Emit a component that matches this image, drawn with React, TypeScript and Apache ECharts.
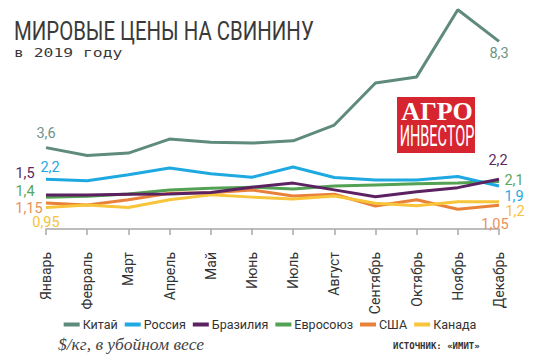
import React, { useEffect, useRef } from "react";
import * as echarts from "echarts";

const months = ["Январь", "Февраль", "Март", "Апрель", "Май", "Июнь", "Июль", "Август", "Сентябрь", "Октябрь", "Ноябрь", "Декабрь"];
const china = [3.6, 3.25, 3.36, 3.98, 3.84, 3.8, 3.9, 4.6, 6.46, 6.73, 9.7, 8.3];
const russia = [2.2, 2.13, 2.4, 2.7, 2.44, 2.29, 2.74, 2.28, 2.17, 2.17, 2.32, 1.9];
const brazil = [1.5, 1.5, 1.54, 1.55, 1.61, 1.85, 2.03, 1.73, 1.43, 1.65, 1.83, 2.2];
const eu = [1.4, 1.45, 1.55, 1.73, 1.8, 1.85, 1.77, 1.9, 1.95, 2.0, 2.03, 2.1];
const usa = [1.15, 1.06, 1.29, 1.58, 1.6, 1.73, 1.46, 1.54, 1.02, 1.29, 0.87, 1.05];
const canada = [0.95, 1.06, 0.95, 1.29, 1.51, 1.41, 1.33, 1.46, 1.14, 1.03, 1.21, 1.2];

const SANS = "Roboto, 'Liberation Sans', sans-serif";

function mkSeries(name: string, data: number[], color: string, labelColor: string, startOff: number[], endOff: number[], z: number) {
  const fmt = (v: number) => String(v).replace(".", ",");
  return {
    name,
    type: "line",
    z,
    symbol: "circle",
    symbolSize: 0,
    lineStyle: { color, width: 3 },
    itemStyle: { color },
    data: data.map((v, i) => {
      if (i === 0 || i === data.length - 1) {
        const off = i === 0 ? startOff : endOff;
        return {
          value: v,
          label: {
            show: true,
            position: "inside",
            offset: off,
            align: "center",
            verticalAlign: "middle",
            formatter: () => fmt(v),
            color: labelColor,
            fontSize: 14.5,
            fontFamily: SANS,
          },
        };
      }
      return v;
    }),
  };
}

export default function App() {
  const ref = useRef<HTMLDivElement>(null);
  useEffect(() => {
    document.body.style.margin = "0";
    const chart = echarts.init(ref.current!, null, { renderer: "svg" });
    chart.setOption({
      animation: false,
      backgroundColor: "#ffffff",
      grid: { left: 46, right: 41, top: 3, bottom: 117 },
      xAxis: {
        type: "category",
        data: months,
        boundaryGap: false,
        axisLine: { lineStyle: { color: "#a8a8a8", width: 1.5 } },
        axisTick: { show: true, length: 6, alignWithLabel: true, lineStyle: { color: "#a8a8a8", width: 1.5 } },
        axisLabel: { rotate: 90, margin: 9, fontSize: 14, fontFamily: SANS, color: "#333333", interval: 0 },
      },
      yAxis: { type: "value", min: -0.62, max: 10, show: false, splitLine: { show: false } },
      legend: {
        data: ["Китай", "Россия", "Бразилия", "Евросоюз", "США", "Канада"],
        top: 313,
        left: "center",
        itemWidth: 16,
        itemHeight: 4,
        itemGap: 7,
        icon: "rect",
        textStyle: { fontSize: 12.5, fontFamily: SANS, color: "#333333", padding: [0, 0, 0, -2] },
      },
      series: [
        mkSeries("Китай", china, "#5f8b7a", "#6f9485", [0, -14], [0, 12], 2),
        mkSeries("Евросоюз", eu, "#53a152", "#5aa65a", [-21, -6], [15, -1], 3),
        mkSeries("США", usa, "#e8823a", "#e8905a", [-17, 5], [-4, 19], 4),
        mkSeries("Канада", canada, "#f7c43a", "#f2c440", [0, 15], [16, 10], 5),
        mkSeries("Россия", russia, "#1fa9e1", "#29a8e0", [4, -12], [15, 10], 6),
        mkSeries("Бразилия", brazil, "#5b2160", "#5b2a63", [-21, -22], [-1, -19], 7),
      ],
      graphic: [
        {
          type: "text",
          x: 14,
          y: 44,
          scaleX: 0.815,
          style: { text: "МИРОВЫЕ ЦЕНЫ НА СВИНИНУ", fontSize: 25, fontFamily: SANS, fill: "#3a3a3a", textVerticalAlign: "bottom" },
        },
        {
          type: "text",
          x: 14,
          y: 59,
          scaleX: 1.26,
          style: { text: "в 2019 году", fontSize: 13, fontFamily: "'DejaVu Sans Mono', monospace", fill: "#3a3a3a", textVerticalAlign: "bottom" },
        },
        { type: "rect", shape: { x: 397, y: 97, width: 78, height: 56 }, style: { fill: "#d7252f" }, z: 10 },
        {
          type: "text",
          x: 437,
          y: 124,
          z: 11,
          style: { text: "АГРО", fontSize: 26, fontWeight: "bold", fontFamily: "'Liberation Serif', 'DejaVu Serif', serif", fill: "#ffffff", textAlign: "center", textVerticalAlign: "bottom" },
        },
        {
          type: "text",
          x: 437,
          y: 151,
          scaleX: 0.5,
          z: 11,
          style: { text: "ИНВЕСТОР", fontSize: 29, fontFamily: SANS, fill: "#ffffff", textAlign: "center", textVerticalAlign: "bottom" },
        },
        {
          type: "text",
          x: 58,
          y: 353,
          style: { text: "$/кг, в убойном весе", fontSize: 17.5, fontStyle: "italic", fontFamily: "'Liberation Serif', serif", fill: "#444444", textVerticalAlign: "bottom" },
        },
        {
          type: "text",
          x: 393,
          y: 350,
          style: { text: "ИСТОЧНИК: «ИМИТ»", fontSize: 9, fontWeight: "bold", fontFamily: "'DejaVu Sans Mono', monospace", fill: "#333333", textVerticalAlign: "bottom" },
        },
      ],
    });
    return () => chart.dispose();
  }, []);
  return <div ref={ref} style={{ width: 540, height: 360 }} />;
}
